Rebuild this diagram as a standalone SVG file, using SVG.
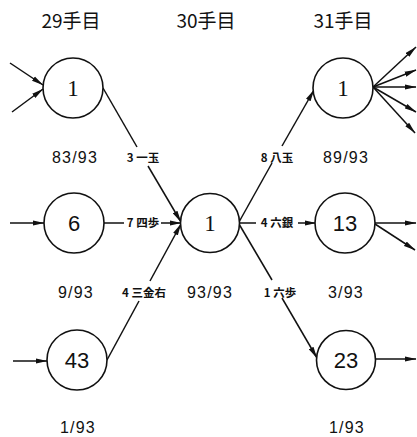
<svg xmlns="http://www.w3.org/2000/svg" width="417" height="437" viewBox="0 0 417 437">
  <style>
    .bg { fill: #ffffff; }
    .node circle { fill: #ffffff; stroke: #111111; stroke-width: 1.6; }
    .num { font-family: "Liberation Sans", "DejaVu Sans", sans-serif; font-size: 22px; fill: #111111; text-anchor: middle; }
    .num.serif { font-family: "Liberation Serif", "DejaVu Serif", serif; font-size: 23px; }
    .head { font-family: "Noto Sans CJK JP", "Noto Sans", sans-serif; font-size: 19px; fill: #111111; text-anchor: middle; }
    .frac { font-family: "Liberation Sans", "DejaVu Sans", sans-serif; font-size: 16px; letter-spacing: 1.2px; fill: #111111; text-anchor: middle; }
    .move { font-family: "Noto Sans CJK JP", "Noto Sans", sans-serif; font-size: 11.5px; font-weight: bold; fill: #111111; text-anchor: middle; }
    .edges line { stroke: #111111; stroke-width: 1.5; fill: none; }
    .edges line.arr { marker-end: url(#head); }
  </style>
  <defs>
    <marker id="head" markerUnits="userSpaceOnUse" markerWidth="12" markerHeight="6" viewBox="0 0 12 6" refX="11.5" refY="3" orient="auto">
      <path d="M0,0.4 L12,3 L0,5.6 Z" fill="#111111"/>
    </marker>
  </defs>

  <rect class="bg" x="0" y="0" width="417" height="437"/>

  <!-- column headers -->
  <g id="headers">
    <text class="head" x="71" y="28">29手目</text>
    <text class="head" x="206" y="28">30手目</text>
    <text class="head" x="343" y="28">31手目</text>
  </g>

  <!-- connectors -->
  <g id="connectors" class="edges">
    <!-- incoming from earlier moves -->
    <line class="arr" x1="10" y1="63" x2="43" y2="85"/>
    <line class="arr" x1="12" y1="112" x2="43" y2="89"/>
    <line class="arr" x1="10" y1="223" x2="44" y2="223"/>
    <line class="arr" x1="13" y1="361" x2="47" y2="361"/>

    <!-- 29 -> 30 -->
    <line x1="103" y1="88" x2="137" y2="147"/>
    <line class="arr" x1="148" y1="166" x2="181" y2="222"/>
    <line x1="104" y1="223" x2="124" y2="223"/>
    <line class="arr" x1="161" y1="223" x2="181" y2="223"/>
    <line x1="107" y1="360" x2="139" y2="301"/>
    <line class="arr" x1="150" y1="281" x2="181" y2="224"/>

    <!-- 30 -> 31 -->
    <line x1="239" y1="222" x2="272" y2="163"/>
    <line class="arr" x1="282" y1="146" x2="314" y2="90"/>
    <line x1="239" y1="223" x2="256" y2="223"/>
    <line class="arr" x1="298" y1="223" x2="316" y2="223"/>
    <line x1="239" y1="224" x2="272" y2="280"/>
    <line class="arr" x1="282" y1="298" x2="317" y2="358"/>

    <!-- onward from 31 -->
    <line class="arr" x1="373" y1="87" x2="416" y2="47"/>
    <line class="arr" x1="373" y1="87" x2="416" y2="70"/>
    <line class="arr" x1="373" y1="87" x2="416" y2="87"/>
    <line class="arr" x1="373" y1="87" x2="416" y2="112"/>
    <line class="arr" x1="373" y1="87" x2="415" y2="133"/>
    <line class="arr" x1="375" y1="223" x2="416" y2="223"/>
    <line class="arr" x1="375" y1="224" x2="415" y2="250"/>
    <line class="arr" x1="375" y1="359" x2="416" y2="359"/>
  </g>

  <!-- move labels on connectors -->
  <g id="moves">
    <text class="move" x="143" y="162">3 一玉</text>
    <text class="move" x="143" y="227">7 四歩</text>
    <text class="move" x="144" y="297">4 三金右</text>
    <text class="move" x="277" y="162">8 八玉</text>
    <text class="move" x="277" y="227">4 六銀</text>
    <text class="move" x="280" y="297">1 六歩</text>
  </g>

  <!-- nodes -->
  <g id="n29a" class="node">
    <circle cx="73" cy="88" r="30"/>
    <text class="num serif" x="73" y="96">1</text>
  </g>
  <g id="n29b" class="node">
    <circle cx="74" cy="223" r="30"/>
    <text class="num" x="74" y="231">6</text>
  </g>
  <g id="n29c" class="node">
    <circle cx="77" cy="360" r="30"/>
    <text class="num" x="77" y="368">43</text>
  </g>
  <g id="n30" class="node">
    <circle cx="210" cy="223" r="29.5"/>
    <text class="num serif" x="210" y="231">1</text>
  </g>
  <g id="n31a" class="node">
    <circle cx="343" cy="88" r="30"/>
    <text class="num serif" x="343" y="96">1</text>
  </g>
  <g id="n31b" class="node">
    <circle cx="345" cy="223" r="30"/>
    <text class="num" x="345" y="231">13</text>
  </g>
  <g id="n31c" class="node">
    <circle cx="346" cy="360" r="29.5"/>
    <text class="num" x="346" y="368">23</text>
  </g>

  <!-- ratios under nodes -->
  <g id="ratios">
    <text class="frac" x="75" y="163">83/93</text>
    <text class="frac" x="346" y="163">89/93</text>
    <text class="frac" x="76" y="298">9/93</text>
    <text class="frac" x="210" y="298">93/93</text>
    <text class="frac" x="346" y="298">3/93</text>
    <text class="frac" x="78" y="433">1/93</text>
    <text class="frac" x="347" y="433">1/93</text>
  </g>
</svg>
